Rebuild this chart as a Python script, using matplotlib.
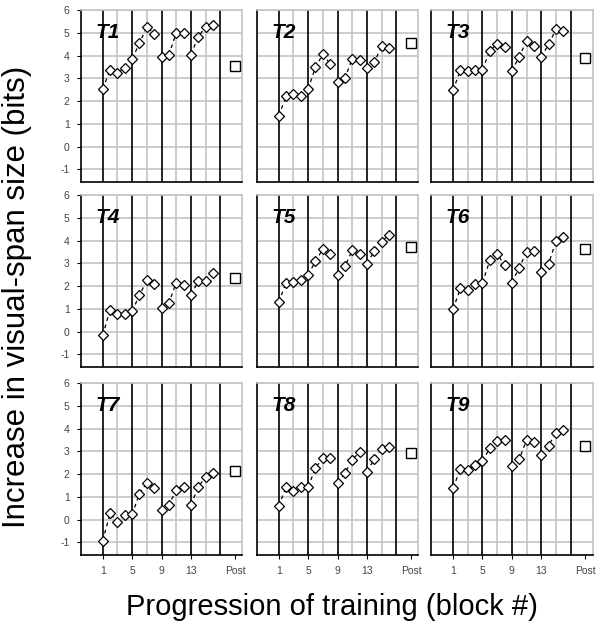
import matplotlib
matplotlib.use('Agg')
import matplotlib.pyplot as plt
import numpy as np

plt.rcParams['font.family'] = ['Liberation Sans', 'DejaVu Sans']
plt.rcParams['axes.unicode_minus'] = False

# block numbers 1..16 and the post-test position
blocks = np.arange(1, 17)
post_x = 19
panel_names = ['T1', 'T2', 'T3', 'T4', 'T5', 'T6', 'T7', 'T8', 'T9']

t1 = [2.53, 3.38, 3.23, 3.46, 3.87, 4.54, 5.27, 4.95, 3.93, 4.03, 5.01, 5.01, 4.05, 4.83, 5.27, 5.33]
t2 = [1.36, 2.21, 2.33, 2.21, 2.53, 3.49, 4.06, 3.64, 2.84, 3.01, 3.87, 3.81, 3.45, 3.70, 4.43, 4.35]
t3 = [2.47, 3.38, 3.32, 3.35, 3.38, 4.22, 4.50, 4.37, 3.32, 3.96, 4.63, 4.43, 3.93, 4.50, 5.15, 5.07]
t4 = [-0.16, 0.97, 0.77, 0.77, 0.90, 1.61, 2.25, 2.10, 1.06, 1.26, 2.16, 2.03, 1.62, 2.22, 2.22, 2.59]
t5 = [1.30, 2.16, 2.20, 2.28, 2.49, 3.10, 3.62, 3.42, 2.49, 2.87, 3.57, 3.42, 2.99, 3.54, 3.94, 4.26]
t6 = [0.99, 1.90, 1.83, 2.09, 2.14, 3.13, 3.42, 2.93, 2.16, 2.81, 3.51, 3.54, 2.64, 2.99, 3.97, 4.14]
t7 = [-0.92, 0.28, -0.09, 0.20, 0.23, 1.15, 1.62, 1.41, 0.43, 0.65, 1.30, 1.44, 0.65, 1.44, 1.88, 2.05]
t8 = [0.60, 1.44, 1.24, 1.44, 1.44, 2.28, 2.70, 2.70, 1.62, 2.05, 2.63, 2.98, 2.11, 2.66, 3.12, 3.18]
t9 = [1.40, 2.22, 2.19, 2.41, 2.57, 3.15, 3.47, 3.50, 2.34, 2.66, 3.50, 3.42, 2.83, 3.26, 3.81, 3.92]
post = [3.55, 4.54, 3.89, 2.36, 3.74, 3.65, 2.14, 2.92, 3.26]

series = [t1, t2, t3, t4, t5, t6, t7, t8, t9]

fig = plt.figure(figsize=(6.04, 6.32), dpi=100)

lefts = [0.1336, 0.425, 0.7136]
bottoms = [0.712, 0.4193, 0.1218]
w, h = 0.2677, 0.272
grid_c = '#c4c4c4'

for i, (name, vals) in enumerate(zip(panel_names, series)):
    r, c = divmod(i, 3)
    ax = fig.add_axes([lefts[c], bottoms[r], w, h])
    ax.set_xlim(-2, 20)
    ax.set_ylim(-1.55, 6)

    # grid
    for yy in range(-1, 7):
        ax.axhline(yy, color=grid_c, lw=1.2, zorder=0)
    for xx in [3, 7, 11, 15]:
        ax.axvline(xx, color=grid_c, lw=1.2, zorder=0)
    for xx in [1, 5, 9, 13, 17]:
        ax.axvline(xx, color='black', lw=1.2, zorder=1)

    vals = np.array(vals)
    for s in range(4):
        seg = slice(4 * s, 4 * s + 4)
        ax.plot(blocks[seg], vals[seg], ls=(0, (3, 3)), color='black', lw=0.9,
                marker='D', ms=4.8, mfc='white', mec='black', mew=0.9, zorder=3)
    ax.plot([post_x], [post[i]], marker='s', ms=6.5, mfc='white', mec='black',
            mew=1.0, ls='none', zorder=3)

    ax.text(0.0, 5.0, name, fontsize=15, fontweight='bold', fontstyle='italic',
            va='center', ha='left', zorder=4)

    for sp in ['top', 'right']:
        ax.spines[sp].set_color(grid_c)
        ax.spines[sp].set_linewidth(1.2)
    for sp in ['left', 'bottom']:
        ax.spines[sp].set_color('black')
        ax.spines[sp].set_linewidth(1.2)

    ax.set_yticks(range(-1, 7))
    ax.set_xticks([1, 5, 9, 13, 19])
    ax.set_xticklabels(['1', '5', '9', '13', 'Post'])
    ax.tick_params(axis='both', length=3, width=0.8, labelsize=7.5,
                   labelcolor='#444444', pad=5)
    if c != 0:
        ax.tick_params(axis='y', labelleft=False, length=0)
    if r != 2:
        ax.tick_params(axis='x', labelbottom=False, length=0)

fig.text(0.028, 0.53, 'Increase in visual-span size (bits)', rotation=90,
         fontsize=22.5, va='center', ha='center')
fig.text(0.55, 0.04, 'Progression of training (block #)', fontsize=21,
         va='center', ha='center')

fig.savefig('out.png', dpi=100)
